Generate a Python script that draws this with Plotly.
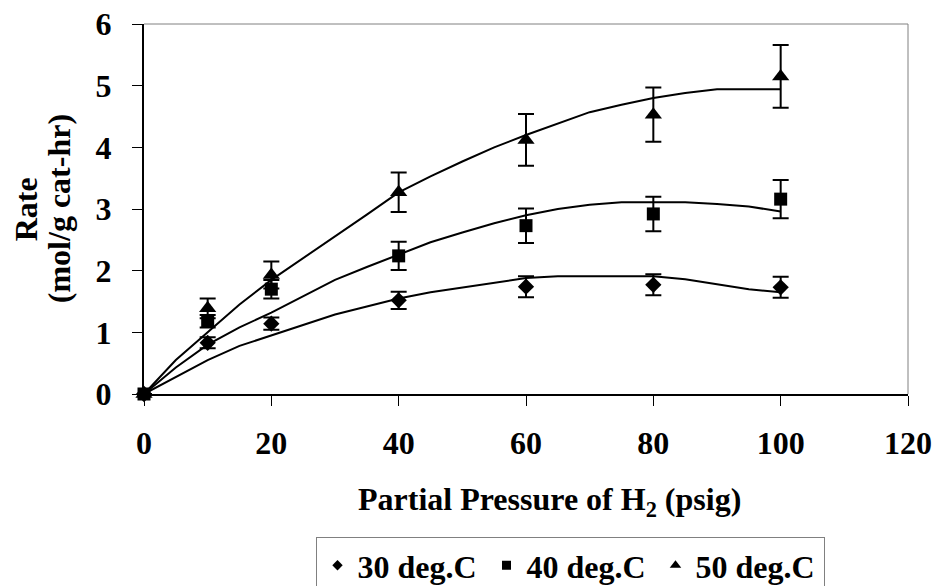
import plotly.graph_objects as go

# Measured data
pressure = [0, 10, 20, 40, 60, 80, 100]
rate_30 = [0, 0.83, 1.14, 1.52, 1.74, 1.77, 1.73]
err_30 = [0, 0.09, 0.10, 0.14, 0.17, 0.17, 0.17]
rate_40 = [0, 1.18, 1.70, 2.24, 2.73, 2.92, 3.16]
err_40 = [0, 0.10, 0.15, 0.23, 0.28, 0.28, 0.31]
rate_50 = [0, 1.39, 1.93, 3.27, 4.12, 4.53, 5.15]
err_50 = [0, 0.16, 0.22, 0.32, 0.42, 0.44, 0.51]

# Fitted (model) curves
fit_x = [0, 5, 10, 15, 20, 25, 30, 35, 40, 45, 50, 55, 60, 65, 70, 75, 80, 85, 90, 95, 100]
fit_30 = [0, 0.28, 0.55, 0.78, 0.95, 1.12, 1.29, 1.42, 1.55, 1.65, 1.73, 1.81, 1.88, 1.91, 1.91, 1.91, 1.91, 1.86, 1.78, 1.70, 1.65]
fit_40 = [0, 0.43, 0.80, 1.08, 1.32, 1.58, 1.85, 2.06, 2.26, 2.46, 2.62, 2.77, 2.90, 3.00, 3.07, 3.11, 3.11, 3.11, 3.08, 3.04, 2.96]
fit_50 = [0, 0.55, 1.00, 1.45, 1.85, 2.20, 2.55, 2.91, 3.27, 3.53, 3.77, 4.00, 4.20, 4.39, 4.57, 4.69, 4.80, 4.88, 4.94, 4.94, 4.94]

series_names = ["30 deg.C", "40 deg.C", "50 deg.C"]
x_ticks = [0, 20, 40, 60, 80, 100, 120]
y_ticks = [0, 1, 2, 3, 4, 5, 6]

FONT = "Liberation Serif, Times New Roman, serif"
BLACK = "#000000"
FS = 32

fig = go.Figure()

for fy in (fit_30, fit_40, fit_50):
    fig.add_trace(go.Scatter(x=fit_x, y=fy, mode="lines",
                             line=dict(color=BLACK, width=2),
                             showlegend=False, hoverinfo="skip"))

symbols = ["diamond", "square", "triangle-up"]
sizes = [12.5, 13, 15]
data = [(rate_30, err_30), (rate_40, err_40), (rate_50, err_50)]
for (vals, errs), sym, sz in zip(data, symbols, sizes):
    fig.add_trace(go.Scatter(x=pressure, y=vals, mode="markers",
                             marker=dict(symbol=sym, size=sz, color=BLACK),
                             error_y=dict(type="data", array=errs, visible=True,
                                          color=BLACK, thickness=2, width=8),
                             cliponaxis=False, showlegend=False))

# Legend-only entries with small symbols
leg_sizes = [8, 9, 10]
for name, sym, sz in zip(series_names, symbols, leg_sizes):
    fig.add_trace(go.Scatter(x=[None], y=[None], mode="markers", name=name,
                             marker=dict(symbol=sym, size=sz, color=BLACK)))

def tfont():
    return dict(family=FONT, size=FS, color=BLACK, weight="bold")

fig.update_layout(
    width=936, height=586,
    margin=dict(l=144, r=28, t=24, b=192, autoexpand=False),
    paper_bgcolor="white", plot_bgcolor="white",
    font=tfont(),
    showlegend=True,
    legend=dict(orientation="h", x=0.5589, xanchor="center",
                y=-0.3865, yanchor="top",
                bordercolor="#808080", borderwidth=1, bgcolor="white",
                font=tfont(), itemwidth=30, tracegroupgap=0, entrywidth=124),
    xaxis=dict(range=[0, 120], tickvals=x_ticks, ticktext=[str(v) for v in x_ticks],
               showgrid=False, zeroline=False, showline=True, linecolor=BLACK, linewidth=1.5,
               ticks="outside", ticklen=10, tickcolor=BLACK, tickwidth=1,
               tickfont=tfont(), ticklabelstandoff=10),
    yaxis=dict(range=[0, 6], tickvals=y_ticks, ticktext=[str(v) for v in y_ticks],
               showgrid=False, zeroline=False, showline=True, linecolor=BLACK, linewidth=2,
               ticks="outside", ticklen=10, tickcolor=BLACK, tickwidth=1,
               tickfont=tfont(), ticklabelstandoff=14),
    shapes=[
        dict(type="line", xref="paper", yref="paper", x0=0, x1=1, y0=1, y1=1,
             line=dict(color="#808080", width=1)),
        dict(type="line", xref="paper", yref="paper", x0=1, x1=1, y0=0, y1=1,
             line=dict(color="#808080", width=1)),
    ],
    annotations=[
        dict(text="Partial Pressure of H<sub>2</sub> (psig)", xref="paper", yref="paper",
             x=0.531, y=-0.29, xanchor="center", yanchor="middle", showarrow=False,
             font=tfont()),
        dict(text="Rate", xref="paper", yref="paper",
             x=-0.154, y=0.5, xanchor="center", yanchor="middle", showarrow=False,
             textangle=-90, font=tfont()),
        dict(text="(mol/g cat-hr)", xref="paper", yref="paper",
             x=-0.111, y=0.5, xanchor="center", yanchor="middle", showarrow=False,
             textangle=-90, font=tfont()),
    ],
)

fig.write_html("out.html")
